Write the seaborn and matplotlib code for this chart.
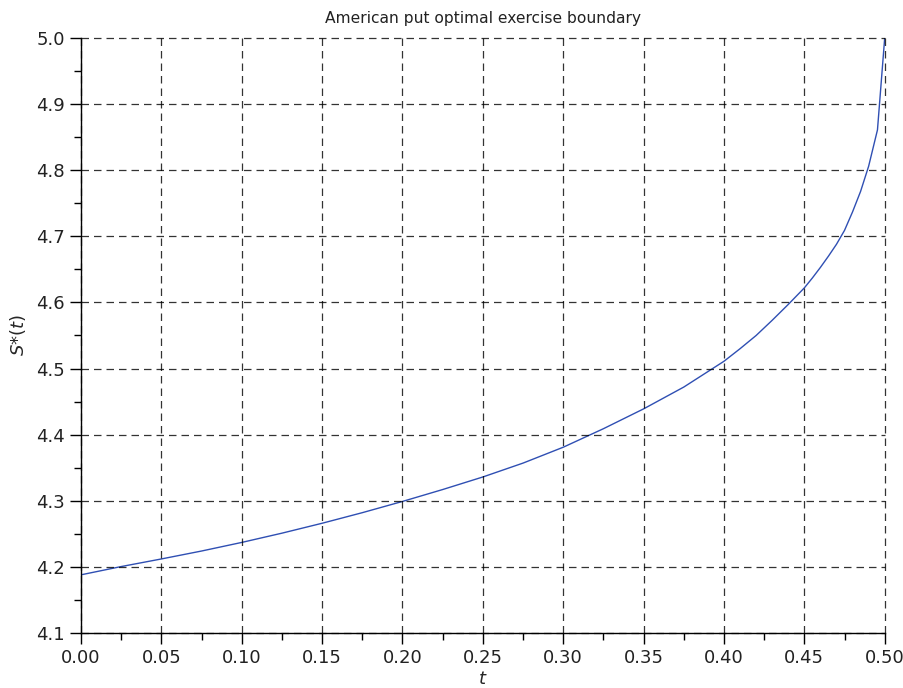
import matplotlib
matplotlib.use("Agg")
import matplotlib.pyplot as plt
import numpy as np
import pandas as pd
import seaborn as sns
from matplotlib.ticker import MultipleLocator, FormatStrFormatter

# values
t = [0.000, 0.025, 0.050, 0.075, 0.100, 0.125, 0.150, 0.175, 0.200, 0.225,
     0.250, 0.275, 0.300, 0.325, 0.350, 0.375, 0.400, 0.410, 0.420, 0.430,
     0.440, 0.450, 0.455, 0.460, 0.465, 0.470, 0.475, 0.480, 0.485, 0.490,
     0.4955, 0.500]
s_star = [4.188, 4.2005, 4.212, 4.224, 4.237, 4.251, 4.266, 4.282, 4.299, 4.317,
          4.336, 4.357, 4.381, 4.409, 4.439, 4.472, 4.511, 4.530, 4.550, 4.573,
          4.597, 4.622, 4.637, 4.653, 4.670, 4.688, 4.709, 4.737, 4.768, 4.806,
          4.861, 5.000]

df = pd.DataFrame({"t": t, "S": s_star})

sns.set_style("ticks")
plt.rcParams["font.family"] = ["DejaVu Sans"]
plt.rcParams["text.color"] = "#222222"
plt.rcParams["xtick.color"] = "#222222"
plt.rcParams["ytick.color"] = "#222222"

fig = plt.figure(figsize=(9.04, 6.88), dpi=100)
ax = fig.add_axes([81 / 904, 1 - 633 / 688, (884.7 - 81) / 904, (633 - 38) / 688])

sns.lineplot(data=df, x="t", y="S", ax=ax, color="#2f4fb3", linewidth=1.0,
             estimator=None, sort=False)

ax.set_xlim(0, 0.5)
ax.set_ylim(4.1, 5.0)
ax.xaxis.set_major_locator(MultipleLocator(0.05))
ax.xaxis.set_minor_locator(MultipleLocator(0.025))
ax.yaxis.set_major_locator(MultipleLocator(0.1))
ax.yaxis.set_minor_locator(MultipleLocator(0.05))
ax.xaxis.set_major_formatter(FormatStrFormatter("%.2f"))
ax.yaxis.set_major_formatter(FormatStrFormatter("%.1f"))

ax.grid(True, which="major", color="black", linestyle=(0, (6, 4)), linewidth=0.9, alpha=0.8)
ax.set_axisbelow(False)
# keep the edge gridlines (e.g. t = 0.50) fully visible
for gl in ax.get_xgridlines() + ax.get_ygridlines():
    gl.set_clip_on(False)

for side in ["top", "right"]:
    ax.spines[side].set_visible(False)
for side in ["left", "bottom"]:
    ax.spines[side].set_color("black")
    ax.spines[side].set_linewidth(1.0)

ax.tick_params(which="major", direction="out", length=8, width=1, labelsize=13, color="black")
ax.tick_params(which="minor", direction="out", length=5, width=1, color="black")

ax.set_title("American put optimal exercise boundary", fontsize=11.2, pad=11)
ax.set_xlabel("$t$", fontsize=13, labelpad=2)
ax.set_ylabel("$S$*$(t)$", fontsize=13, labelpad=6)

fig.savefig("out.png", dpi=100)
